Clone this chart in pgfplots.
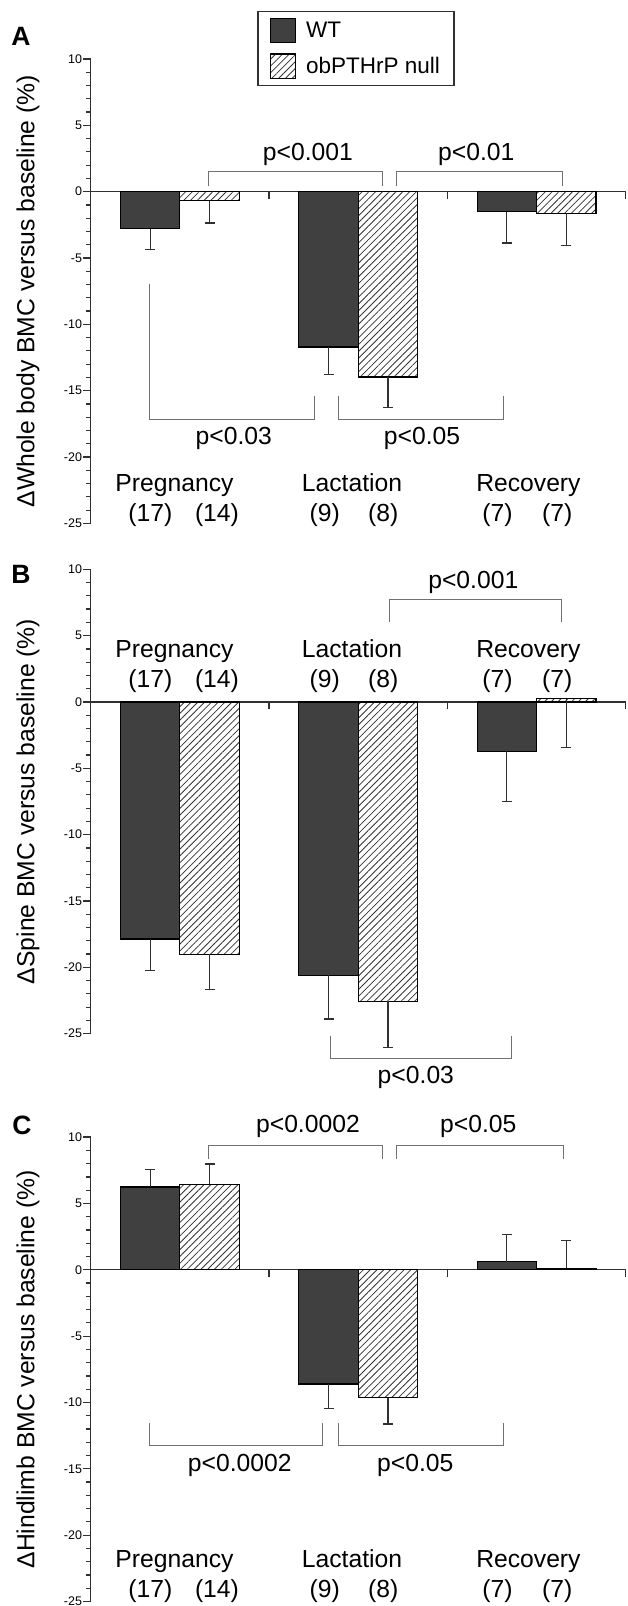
\documentclass[border=0pt]{standalone}
\usepackage{pgfplots}
\pgfplotsset{compat=1.18}
\usepackage{fontspec}
\setmainfont{Liberation Sans}
\usetikzlibrary{patterns.meta}
\definecolor{wtgray}{HTML}{404040}
\definecolor{brk}{HTML}{707070}
\definecolor{axc}{HTML}{303030}
\newcommand\bigtxt{\fontsize{24.7}{28}\selectfont}
\newcommand\legtxt{\fontsize{22.5}{26}\selectfont}
\newcommand\ticktxt{\fontsize{12.5}{14}\selectfont}
\newcommand\lettxt{\fontsize{26.5}{30}\selectfont\bfseries}
\pgfplotsset{
  panel/.style={
    scale only axis, width=535.1pt, height=464.4pt,
    xmin=0, xmax=3, ymin=-25, ymax=10,
    axis x line=middle, axis y line=left,
    axis line style={-, line width=1.2pt, axc},
    hide obscured x ticks=false, hide obscured y ticks=false,
    xtick={1,2,3}, xticklabels={},
    ytick={-25,-20,...,10}, yticklabels={-25,-20,-15,-10,-5,0,5,10},
    minor y tick num=4,
    tick align=outside,
    major tick length=7.5pt, minor tick length=4.7pt,
    tick style={line width=1.2pt, axc},
    yticklabel style={font=\ticktxt, inner sep=1pt},
    ylabel style={font=\bigtxt, at={(axis description cs:-0.1172,0.5)}, anchor=center},
    clip=false,
  },
  wtbar/.style={ybar, bar width=0.3333, bar shift=0pt, fill=wtgray, draw=black, line width=1.2pt},
  nlbar/.style={ybar, bar width=0.3333, bar shift=0pt, draw=black, line width=1.2pt,
    pattern={Lines[angle=45,distance=4.8pt,line width=0.8pt]}, pattern color=black!80},
  errm/.style={error bars/.cd, y dir=minus, y explicit, error mark=-,
    error bar style={line width=1.2pt, axc, solid},
    error mark options={rotate=90, line width=1.2pt, axc, mark size=5pt}},
  errp/.style={error bars/.cd, y dir=plus, y explicit, error mark=-,
    error bar style={line width=1.2pt, axc, solid},
    error mark options={rotate=90, line width=1.2pt, axc, mark size=5pt}},
  brack/.style={line width=1pt, brk, mark=none, sharp plot, forget plot},
}
\tikzset{cat/.style={font=\bigtxt, anchor=base, inner sep=0pt}}
\begin{document}
\begin{tikzpicture}
\useasboundingbox (0,0) rectangle (627pt,1606pt);
\node[font=\lettxt] at (21pt,1569.5pt) {A};
\node[font=\lettxt] at (21pt,1032pt) {B};
\node[font=\lettxt] at (22pt,480.5pt) {C};

% ---------------- Panel A
\begin{axis}[panel, at={(90.7pt,1082.6pt)}, anchor=south west,
  ylabel={ΔWhole body BMC versus baseline (\%)},
  legend style={at={(rel axis cs:0,1)}, anchor=north west, xshift=166.6pt, yshift=48pt,
    draw=axc, line width=1.2pt, font=\legtxt, inner xsep=12pt, inner ysep=6pt,
    row sep=10pt, cells={anchor=west},
    /tikz/every odd column/.append style={column sep=8pt}},
  legend image code/.code={\draw[#1, line width=1.2pt] (0pt,-12.3pt) rectangle (25pt,12.3pt);},
]
\addplot[wtbar, errm] coordinates {(0.3333,-2.80) +- (0,1.56) (1.3333,-11.71) +- (0,2.08) (2.3333,-1.51) +- (0,2.36)};
\addlegendentry{WT}
\addplot[nlbar, errm] coordinates {(0.6667,-0.67) +- (0,1.69) (1.6667,-13.97) +- (0,2.28) (2.6667,-1.64) +- (0,2.41)};
\addlegendentry{obPTHrP null}
\addplot[brack] coordinates {(0.663,0.43) (0.663,1.51) (1.638,1.51) (1.638,0.43)};
\addplot[brack] coordinates {(1.717,0.43) (1.717,1.51) (2.646,1.51) (2.646,0.43)};
\addplot[brack] coordinates {(0.328,-6.95) (0.328,-17.15) (1.256,-17.15) (1.256,-15.43)};
\addplot[brack] coordinates {(1.387,-15.43) (1.387,-17.15) (2.312,-17.15) (2.312,-15.43)};
\node[font=\bigtxt] at (axis cs:1.218,2.77) {p<0.001};
\node[font=\bigtxt] at (axis cs:2.162,2.77) {p<0.01};
\node[font=\bigtxt] at (axis cs:0.802,-18.6) {p<0.03};
\node[font=\bigtxt] at (axis cs:1.858,-18.6) {p<0.05};
\node[cat] at (axis cs:0.470,-22.57) {Pregnancy};
\node[cat] at (axis cs:1.465,-22.57) {Lactation};
\node[cat] at (axis cs:2.454,-22.57) {Recovery};
\node[font=\bigtxt] at (axis cs:0.335,-24.4) {(17)};
\node[font=\bigtxt] at (axis cs:0.708,-24.4) {(14)};
\node[font=\bigtxt] at (axis cs:1.312,-24.4) {(9)};
\node[font=\bigtxt] at (axis cs:1.640,-24.4) {(8)};
\node[font=\bigtxt] at (axis cs:2.281,-24.4) {(7)};
\node[font=\bigtxt] at (axis cs:2.616,-24.4) {(7)};
\end{axis}

% ---------------- Panel B
\begin{axis}[panel, at={(90.7pt,572.3pt)}, anchor=south west,
  ylabel={ΔSpine BMC versus baseline (\%)}]
\addplot[wtbar, errm] coordinates {(0.3333,-17.87) +- (0,2.34) (1.3333,-20.60) +- (0,3.30) (2.3333,-3.71) +- (0,3.77)};
\addplot[nlbar, errm] coordinates {(0.6667,-19.01) +- (0,2.63) (1.6667,-22.55) +- (0,3.50) (2.6667,0.26) +- (0,3.69)};
\addplot[brack] coordinates {(1.674,6.05) (1.674,7.74) (2.642,7.74) (2.642,6.05)};
\addplot[brack] coordinates {(1.342,-25.16) (1.342,-26.85) (2.357,-26.85) (2.357,-25.16)};
\node[font=\bigtxt] at (axis cs:2.145,9.0) {p<0.001};
\node[font=\bigtxt] at (axis cs:1.823,-28.3) {p<0.03};
\node[cat] at (axis cs:0.470,3.35) {Pregnancy};
\node[cat] at (axis cs:1.465,3.35) {Lactation};
\node[cat] at (axis cs:2.454,3.35) {Recovery};
\node[font=\bigtxt] at (axis cs:0.335,1.56) {(17)};
\node[font=\bigtxt] at (axis cs:0.708,1.56) {(14)};
\node[font=\bigtxt] at (axis cs:1.312,1.56) {(9)};
\node[font=\bigtxt] at (axis cs:1.640,1.56) {(8)};
\node[font=\bigtxt] at (axis cs:2.281,1.56) {(7)};
\node[font=\bigtxt] at (axis cs:2.616,1.56) {(7)};
\end{axis}

% ---------------- Panel C
\begin{axis}[panel, at={(90.7pt,4.5pt)}, anchor=south west,
  ylabel={ΔHindlimb BMC versus baseline (\%)}]
\addplot[wtbar, errp] coordinates {(0.3333,6.24) +- (0,1.31) (2.3333,0.61) +- (0,2.02)};
\addplot[wtbar, errm] coordinates {(1.3333,-8.61) +- (0,1.86)};
\addplot[nlbar, errp] coordinates {(0.6667,6.45) +- (0,1.52) (2.6667,0.10) +- (0,2.08)};
\addplot[nlbar, errm] coordinates {(1.6667,-9.63) +- (0,2.00)};
\addplot[brack] coordinates {(0.663,8.34) (0.663,9.34) (1.638,9.34) (1.638,8.34)};
\addplot[brack] coordinates {(1.717,8.34) (1.717,9.34) (2.649,9.34) (2.649,8.34)};
\addplot[brack] coordinates {(0.328,-11.53) (0.328,-13.21) (1.299,-13.21) (1.299,-11.53)};
\addplot[brack] coordinates {(1.387,-11.53) (1.387,-13.21) (2.312,-13.21) (2.312,-11.53)};
\node[font=\bigtxt] at (axis cs:1.218,10.8) {p<0.0002};
\node[font=\bigtxt] at (axis cs:2.173,10.8) {p<0.05};
\node[font=\bigtxt] at (axis cs:0.836,-14.74) {p<0.0002};
\node[font=\bigtxt] at (axis cs:1.820,-14.74) {p<0.05};
\node[cat] at (axis cs:0.470,-22.44) {Pregnancy};
\node[cat] at (axis cs:1.465,-22.44) {Lactation};
\node[cat] at (axis cs:2.454,-22.44) {Recovery};
\node[font=\bigtxt] at (axis cs:0.335,-24.2) {(17)};
\node[font=\bigtxt] at (axis cs:0.708,-24.2) {(14)};
\node[font=\bigtxt] at (axis cs:1.312,-24.2) {(9)};
\node[font=\bigtxt] at (axis cs:1.640,-24.2) {(8)};
\node[font=\bigtxt] at (axis cs:2.281,-24.2) {(7)};
\node[font=\bigtxt] at (axis cs:2.616,-24.2) {(7)};
\end{axis}
\end{tikzpicture}
\end{document}
